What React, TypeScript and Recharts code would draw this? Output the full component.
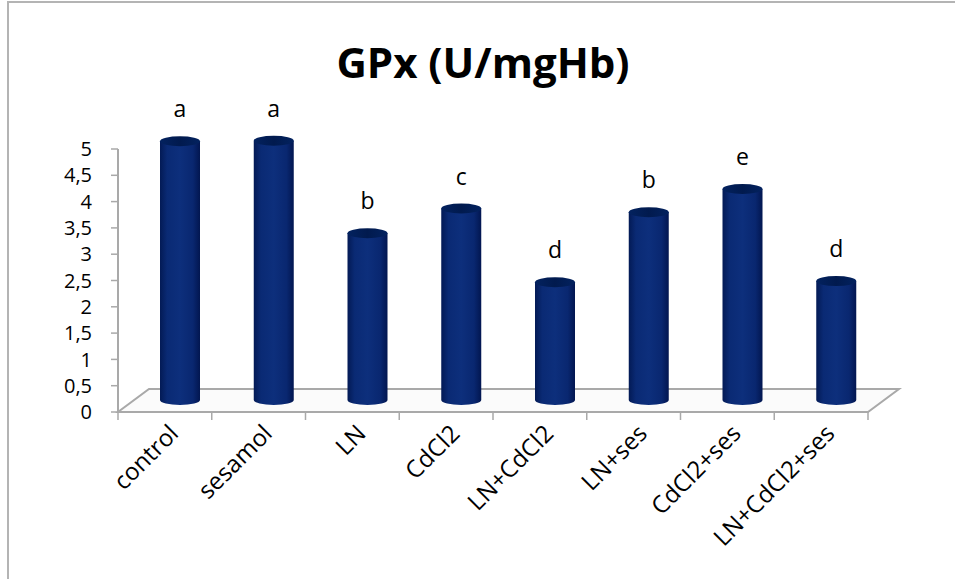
import React from "react";
import { Bar, ComposedChart, LabelList, ReferenceArea, XAxis, YAxis } from "recharts";

const categories = ["control", "sesamol", "LN", "CdCl2", "LN+CdCl2", "LN+ses", "CdCl2+ses", "LN+CdCl2+ses"];
const gpxValues = [4.92, 4.93, 3.17, 3.64, 2.24, 3.57, 4.01, 2.26];
const groupLetters = ["a", "a", "b", "c", "d", "b", "e", "d"];
const yTicks = [0, 0.5, 1, 1.5, 2, 2.5, 3, 3.5, 4, 4.5, 5];

const data = categories.map((name, i) => ({ name, gpx: gpxValues[i], letter: groupLetters[i] }));

const FONT = "'Open Sans', 'DejaVu Sans', sans-serif";
const GRID = "#a9a9a9";
// 3d depth of the floor, and the shift of the cylinders (half the depth)
const DEPTH_X = 31;
const DEPTH_Y = -23;
const SHIFT_X = 15;
const SHIFT_Y = -12;
const RY = 5;

function Floor(props: any) {
  const { x, y, width, height } = props;
  const bottom = y + height;
  const step = width / categories.length;
  const ticks = [];
  for (let i = 0; i <= categories.length; i++) {
    const tx = x + i * step;
    ticks.push(<line key={i} x1={tx} y1={bottom} x2={tx} y2={bottom + 8} stroke={GRID} strokeWidth={1.5} />);
  }
  return (
    <g>
      <polygon
        points={`${x},${bottom} ${x + width},${bottom} ${x + width + DEPTH_X},${bottom + DEPTH_Y} ${x + DEPTH_X},${bottom + DEPTH_Y}`}
        fill="#fbfbfb"
        stroke={GRID}
        strokeWidth={2}
      />
      {ticks}
    </g>
  );
}

function Cylinder(props: any) {
  const { x, y, width, height } = props;
  if (width == null || height == null) return null;
  const left = x + SHIFT_X;
  const right = left + width;
  const top = y + SHIFT_Y;
  const bot = y + height + SHIFT_Y;
  const rx = width / 2;
  const body = `M${left},${top} L${left},${bot} A${rx},${RY} 0 0 0 ${right},${bot} L${right},${top} Z`;
  return (
    <g>
      <path d={body} fill="url(#cylBody)" />
      <ellipse cx={left + rx} cy={top} rx={rx} ry={RY} fill="url(#cylTop)" />
    </g>
  );
}

function LetterLabel(props: any) {
  const { x, y, width, index } = props;
  return (
    <text
      x={x + width / 2 + SHIFT_X}
      y={y + SHIFT_Y - RY - 19}
      textAnchor="middle"
      fontFamily={FONT}
      fontSize={23}
      fill="#000"
    >
      {groupLetters[index]}
    </text>
  );
}

function CategoryTick(props: any) {
  const { x, y, payload } = props;
  const ax = x + 15;
  const ay = y + 15;
  return (
    <text
      x={ax}
      y={ay}
      textAnchor="end"
      transform={`rotate(-45, ${ax}, ${ay})`}
      fontFamily={FONT}
      fontSize={24}
      fill="#000"
    >
      {payload.value}
    </text>
  );
}

export default function App() {
  return (
    <div style={{ position: "fixed", left: 0, top: 0, width: 955, height: 579, background: "#fff", overflow: "hidden" }}>
      <div
        style={{
          position: "absolute",
          left: 7,
          top: 1,
          width: 1000,
          height: 700,
          borderLeft: "2px solid #b4b4b4",
          borderTop: "2px solid #b4b4b4",
        }}
      />
      <div
        style={{
          position: "absolute",
          left: 0,
          top: 41,
          width: 966,
          textAlign: "center",
          fontFamily: FONT,
          fontWeight: 700,
          fontSize: 42,
          lineHeight: "42px",
          color: "#000",
        }}
      >
        GPx (U/mgHb)
      </div>
      <div style={{ position: "absolute", left: 0, top: 0 }}>
        <ComposedChart
          width={955}
          height={579}
          data={data}
          margin={{ top: 149, right: 87, bottom: 47, left: 58 }}
          barSize={40}
        >
          <defs>
            <linearGradient id="cylBody" x1="0" y1="0" x2="1" y2="0">
              <stop offset="0%" stopColor="#031a55" />
              <stop offset="18%" stopColor="#0a2a74" />
              <stop offset="50%" stopColor="#0d2f7c" />
              <stop offset="82%" stopColor="#092770" />
              <stop offset="100%" stopColor="#021650" />
            </linearGradient>
            <linearGradient id="cylTop" x1="0" y1="0" x2="1" y2="0">
              <stop offset="0%" stopColor="#03225f" />
              <stop offset="50%" stopColor="#011a4e" />
              <stop offset="100%" stopColor="#03225f" />
            </linearGradient>
          </defs>
          <ReferenceArea y1={0} y2={5} ifOverflow="visible" shape={(p: any) => <Floor {...p} />} />
          <XAxis
            dataKey="name"
            interval={0}
            height={120}
            axisLine={{ stroke: GRID, strokeWidth: 2 }}
            tickLine={false}
            tick={<CategoryTick />}
          />
          <YAxis
            domain={[0, 5]}
            ticks={yTicks}
            interval={0}
            width={60}
            axisLine={{ stroke: GRID, strokeWidth: 2 }}
            tickLine={{ stroke: GRID, strokeWidth: 1.5 }}
            tickSize={7}
            tickMargin={19}
            tick={{ fill: "#000", fontSize: 20, fontFamily: FONT }}
            tickFormatter={(v: number) => String(v).replace(".", ",")}
          />
          <Bar dataKey="gpx" shape={(p: any) => <Cylinder {...p} />} isAnimationActive={false}>
            <LabelList dataKey="letter" content={(p: any) => <LetterLabel {...p} />} />
          </Bar>
        </ComposedChart>
      </div>
    </div>
  );
}
